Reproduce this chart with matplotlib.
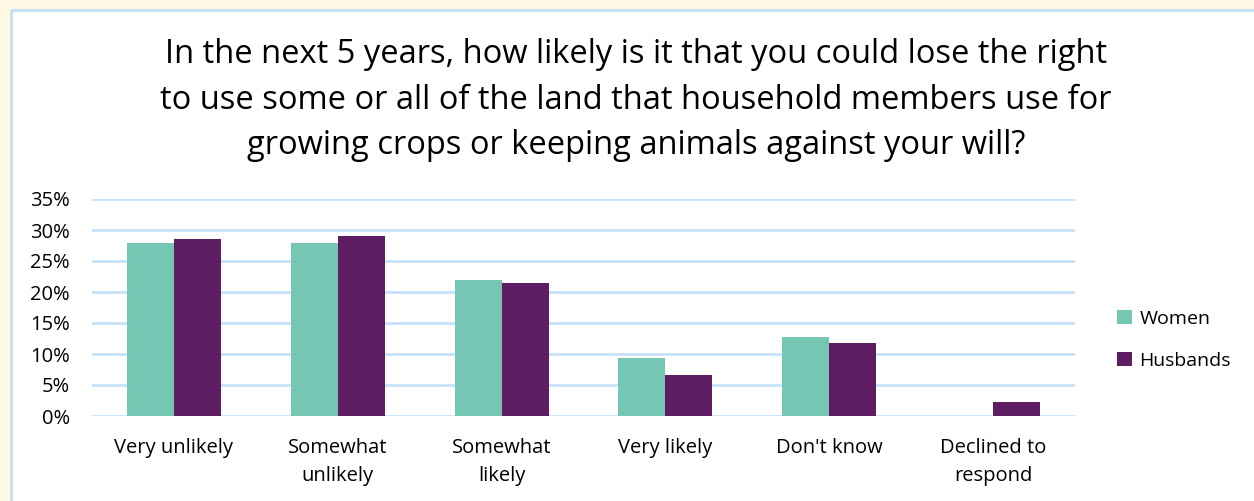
import matplotlib.pyplot as plt
import numpy as np
from matplotlib.patches import Rectangle

categories = ['Very unlikely', 'Somewhat\nunlikely', 'Somewhat\nlikely', 'Very likely', "Don't know", 'Declined to\nrespond']
women = [27.9, 27.9, 21.9, 9.3, 12.7, 0.0]
husbands = [28.5, 29.0, 21.5, 6.6, 11.8, 2.3]
yticks = [0, 5, 10, 15, 20, 25, 30, 35]

green = '#76C6B4'
purple = '#5E1D63'
grid_blue = '#C7E2F8'

plt.rcParams['font.family'] = ['Open Sans', 'DejaVu Sans']

fig = plt.figure(figsize=(12.54, 5.01), dpi=100)
fig.patch.set_facecolor('#FFF9E6')
fig.patches.append(Rectangle((11 / 1254, -0.05), 1.1, 1 - 10 / 501 + 0.05, transform=fig.transFigure,
                             facecolor='white', edgecolor='#C5DFF5', linewidth=2, zorder=-5))

ax = fig.add_axes([92 / 1254, 1 - 416 / 501, (1075 - 92) / 1254, (416 - 199) / 501])
ax.set_facecolor('none')
x = np.arange(len(categories))
w = 0.287
ax.bar(x - w / 2, women, w, color=green, label='Women', zorder=3)
ax.bar(x + w / 2, husbands, w, color=purple, label='Husbands', zorder=3)

ax.set_ylim(0, 35)
ax.set_xlim(-0.5, len(categories) - 0.5)
ax.set_yticks(yticks)
ax.set_yticklabels([f'{t}%' for t in yticks], fontsize=14.5)
ax.set_xticks(x)
ax.set_xticklabels(categories, fontsize=14.5, linespacing=1.55)
ax.tick_params(length=0)
ax.tick_params(axis='x', pad=16)
ax.tick_params(axis='y', pad=16)
for s in ax.spines.values():
    s.set_visible(False)
ax.yaxis.grid(True, color=grid_blue, linewidth=2, zorder=0)
ax.set_axisbelow(True)

fig.text(0.507, 0.80, 'In the next 5 years, how likely is it that you could lose the right\n'
         'to use some or all of the land that household members use for\n'
         'growing crops or keeping animals against your will?',
         ha='center', va='center', fontsize=23.5, linespacing=1.5)

fig.legend(loc='center left', bbox_to_anchor=(0.877, 0.322), frameon=False, fontsize=14,
           handlelength=0.75, handleheight=0.75, handletextpad=0.4, labelspacing=1.25)

fig.savefig('out.png', dpi=100, facecolor=fig.get_facecolor())
